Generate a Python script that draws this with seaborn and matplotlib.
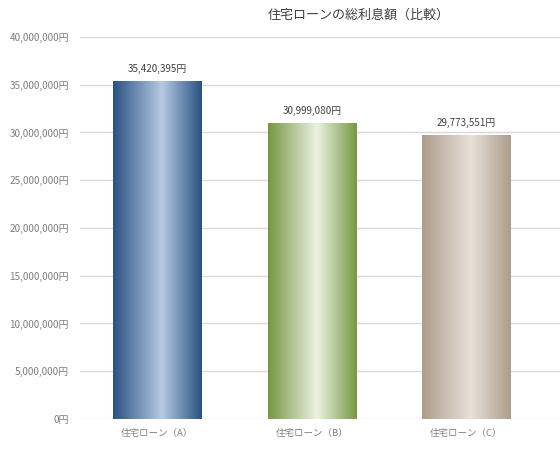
"""Total interest comparison of three housing loans."""

import matplotlib

matplotlib.use("Agg")

import matplotlib.pyplot as plt
import numpy as np
import pandas as pd
import seaborn as sns
from matplotlib.colors import LinearSegmentedColormap
from matplotlib.ticker import FuncFormatter, MultipleLocator

TITLE = "住宅ローンの総利息額（比較）"
LOANS = ["住宅ローン（A）", "住宅ローン（B）", "住宅ローン（C）"]
TOTAL_INTEREST = [35420395, 30999080, 29773551]

# (edge colour, centre colour) for each bar's cylinder-like gradient
BAR_SHADES = [
    ("#2a5282", "#b6cae2"),
    ("#779843", "#ecf2e0"),
    ("#ad9d8b", "#e8e1d9"),
]

TEXT_DARK = "#404040"
TEXT_GRAY = "#7f7f7f"
GRID_COLOR = "#d9d9d9"


def shade_bar(ax, patch, edge, centre):
    cmap = LinearSegmentedColormap.from_list("bar", [(0.0, edge), (0.5, centre), (1.0, edge)])
    x0, y0 = patch.get_x(), patch.get_y()
    w, h = patch.get_width(), patch.get_height()
    ramp = np.linspace(0, 1, 256)
    # lightest slightly right of centre, darker towards the edges
    ramp = np.where(ramp < 0.55, ramp / 0.55 * 0.5, 0.5 + (ramp - 0.55) / 0.45 * 0.5)
    img = ax.imshow(
        ramp.reshape(1, -1),
        cmap=cmap,
        vmin=0,
        vmax=1,
        extent=(x0, x0 + w, y0, y0 + h),
        aspect="auto",
        interpolation="bilinear",
        zorder=2,
    )
    img.set_clip_path(patch)
    patch.set_facecolor("none")
    patch.set_edgecolor("none")


sns.set_theme(style="white")
plt.rcParams["font.family"] = ["Noto Sans CJK JP", "DejaVu Sans"]

df = pd.DataFrame({"loan": LOANS, "interest": TOTAL_INTEREST})

fig = plt.figure(figsize=(5.6, 4.51), dpi=100)
ax = fig.add_axes([0.143, 0.071, 0.857, 0.847])

sns.barplot(data=df, x="loan", y="interest", width=0.57, ax=ax, zorder=2)

for patch, (edge, centre) in zip(ax.patches, BAR_SHADES):
    shade_bar(ax, patch, edge, centre)

labels = [f"{v:,}円" for v in TOTAL_INTEREST]
ax.bar_label(ax.containers[0], labels=labels, padding=5, fontsize=7.1, color=TEXT_DARK)

ax.set_ylim(0, 40000000)
ax.set_xlim(-0.5, 2.605)
ax.yaxis.set_major_locator(MultipleLocator(5000000))
ax.yaxis.set_major_formatter(FuncFormatter(lambda v, _: f"{int(v):,}円"))
ax.grid(axis="y", color=GRID_COLOR, linewidth=1.0, zorder=0)
ax.set_axisbelow(True)

ax.set_xlabel("")
ax.set_ylabel("")
ax.tick_params(axis="both", length=0, colors=TEXT_GRAY)
ax.tick_params(axis="y", pad=8, labelsize=7.2)
ax.tick_params(axis="x", pad=7, labelsize=6.8)
for spine in ax.spines.values():
    spine.set_visible(False)

fig.text(0.64, 0.966, TITLE, ha="center", va="center", fontsize=9.4, color=TEXT_DARK)

fig.savefig("out.png", dpi=100, facecolor="white")
